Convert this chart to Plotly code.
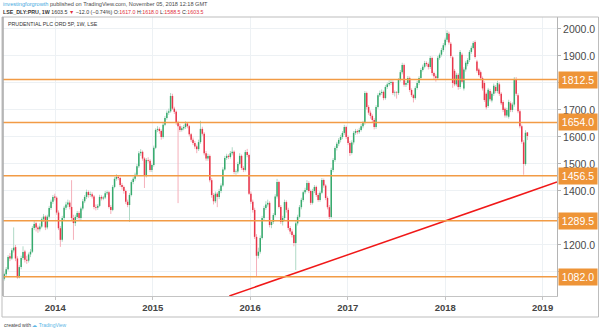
import pandas as pd
import plotly.graph_objects as go

# Weekly OHLC for Prudential (LSE:PRU), one row of ten weeks per line
opens = [
    1075, 1092, 1110, 1158, 1150, 1180, 1192, 1150, 1080, 1118,
    1152, 1176, 1145, 1142, 1165, 1175, 1263, 1280, 1265, 1258,
    1268, 1295, 1305, 1265, 1305, 1337, 1360, 1380, 1375, 1320,
    1262, 1219, 1300, 1338, 1350, 1357, 1341, 1300, 1281, 1304,
    1318, 1300, 1335, 1362, 1378, 1396, 1385, 1388, 1380, 1341,
    1338, 1345, 1378, 1372, 1376, 1392, 1395, 1341, 1330, 1415,
    1445, 1452, 1448, 1422, 1415, 1400, 1360, 1348, 1385, 1433,
    1445, 1460, 1492, 1540, 1545, 1520, 1459, 1515, 1512, 1478,
    1496, 1560, 1626, 1630, 1622, 1600, 1645, 1670, 1690, 1695,
    1752, 1705, 1693, 1652, 1640, 1626, 1632, 1637, 1650, 1640,
    1610, 1590, 1578, 1565, 1555, 1581, 1630, 1612, 1540, 1520,
    1530, 1440, 1385, 1362, 1390, 1378, 1400, 1420, 1480, 1522,
    1530, 1526, 1540, 1545, 1470, 1472, 1500, 1530, 1485, 1478,
    1544, 1533, 1390, 1360, 1330, 1230, 1160, 1175, 1226, 1300,
    1337, 1350, 1356, 1274, 1285, 1311, 1380, 1433, 1341, 1285,
    1300, 1359, 1330, 1263, 1250, 1237, 1207, 1280, 1304, 1340,
    1367, 1395, 1404, 1430, 1400, 1356, 1400, 1415, 1385, 1367,
    1393, 1441, 1420, 1374, 1340, 1304, 1478, 1515, 1559, 1575,
    1589, 1600, 1615, 1637, 1600, 1578, 1541, 1580, 1615, 1622,
    1618, 1626, 1640, 1652, 1763, 1711, 1690, 1678, 1663, 1637,
    1711, 1755, 1763, 1767, 1744, 1785, 1795, 1800, 1804, 1763,
    1765, 1763, 1811, 1840, 1867, 1793, 1800, 1818, 1774, 1755,
    1744, 1781, 1800, 1818, 1848, 1860, 1874, 1870, 1859, 1893,
    1837, 1825, 1818, 1893, 1905, 1922, 1940, 1960, 1982, 1945,
    1895, 1845, 1795, 1830, 1785, 1905, 1780, 1850, 1870, 1885,
    1915, 1930, 1952, 1880, 1850, 1840, 1818, 1800, 1760, 1715,
    1770, 1735, 1760, 1785, 1770, 1795, 1760, 1730, 1705, 1680,
    1675, 1725, 1700, 1720, 1815, 1755, 1695, 1640, 1580, 1500,
    1617,
]
highs = [
    1098, 1118, 1162, 1170, 1188, 1265, 1200, 1158, 1125, 1160,
    1195, 1182, 1160, 1172, 1185, 1270, 1290, 1286, 1272, 1280,
    1302, 1315, 1310, 1312, 1345, 1368, 1385, 1390, 1380, 1328,
    1270, 1308, 1345, 1360, 1368, 1365, 1440, 1312, 1312, 1326,
    1325, 1342, 1370, 1385, 1405, 1402, 1398, 1395, 1385, 1350,
    1352, 1386, 1384, 1382, 1400, 1402, 1400, 1348, 1422, 1452,
    1462, 1458, 1452, 1430, 1420, 1405, 1368, 1392, 1440, 1452,
    1468, 1500, 1548, 1555, 1550, 1525, 1522, 1525, 1518, 1502,
    1568, 1632, 1640, 1636, 1628, 1652, 1678, 1698, 1705, 1763,
    1760, 1712, 1698, 1660, 1648, 1640, 1645, 1658, 1655, 1645,
    1615, 1598, 1585, 1572, 1590, 1660, 1638, 1618, 1548, 1538,
    1535, 1448, 1392, 1398, 1396, 1408, 1428, 1488, 1530, 1538,
    1536, 1548, 1562, 1550, 1480, 1508, 1540, 1535, 1492, 1552,
    1556, 1538, 1398, 1368, 1338, 1240, 1190, 1235, 1308, 1345,
    1362, 1368, 1362, 1292, 1318, 1388, 1445, 1438, 1348, 1308,
    1368, 1365, 1338, 1270, 1258, 1242, 1288, 1312, 1348, 1375,
    1402, 1412, 1440, 1436, 1405, 1408, 1422, 1420, 1392, 1400,
    1448, 1446, 1425, 1380, 1348, 1486, 1522, 1566, 1582, 1596,
    1608, 1622, 1645, 1642, 1606, 1584, 1588, 1622, 1630, 1628,
    1634, 1648, 1660, 1770, 1768, 1718, 1698, 1684, 1670, 1718,
    1762, 1772, 1776, 1772, 1792, 1802, 1810, 1812, 1810, 1772,
    1770, 1818, 1848, 1875, 1872, 1808, 1826, 1824, 1780, 1760,
    1788, 1808, 1825, 1855, 1868, 1882, 1880, 1876, 1900, 1898,
    1842, 1832, 1900, 1912, 1930, 1948, 1968, 1995, 1990, 1952,
    1900, 1852, 1838, 1836, 1922, 1912, 1858, 1882, 1892, 1922,
    1938, 1955, 1958, 1886, 1856, 1846, 1824, 1806, 1765, 1782,
    1778, 1768, 1798, 1792, 1808, 1802, 1766, 1736, 1710, 1708,
    1738, 1732, 1728, 1822, 1822, 1762, 1702, 1646, 1588, 1625,
    1618,
]
lows = [
    1068, 1085, 1105, 1140, 1145, 1172, 1140, 1075, 1076, 1110,
    1145, 1135, 1130, 1135, 1155, 1170, 1255, 1250, 1245, 1250,
    1262, 1285, 1255, 1258, 1298, 1330, 1352, 1365, 1312, 1255,
    1193, 1212, 1292, 1330, 1340, 1332, 1292, 1219, 1270, 1295,
    1290, 1292, 1328, 1355, 1370, 1375, 1378, 1372, 1332, 1328,
    1330, 1340, 1365, 1366, 1370, 1385, 1335, 1315, 1325, 1410,
    1438, 1440, 1415, 1405, 1390, 1352, 1340, 1285, 1380, 1425,
    1438, 1455, 1485, 1530, 1512, 1411, 1450, 1505, 1470, 1470,
    1490, 1555, 1618, 1612, 1590, 1594, 1640, 1664, 1682, 1690,
    1700, 1685, 1645, 1355, 1618, 1620, 1625, 1630, 1632, 1602,
    1582, 1570, 1556, 1540, 1548, 1575, 1605, 1532, 1512, 1512,
    1432, 1375, 1350, 1355, 1340, 1370, 1392, 1415, 1475, 1515,
    1518, 1520, 1532, 1462, 1460, 1465, 1495, 1478, 1470, 1472,
    1525, 1385, 1352, 1320, 1222, 1083, 1150, 1168, 1220, 1292,
    1330, 1342, 1265, 1262, 1278, 1305, 1372, 1335, 1278, 1272,
    1292, 1320, 1255, 1240, 1228, 1195, 1107, 1272, 1298, 1332,
    1360, 1388, 1398, 1392, 1348, 1350, 1392, 1378, 1360, 1360,
    1388, 1412, 1366, 1332, 1296, 1298, 1470, 1508, 1550, 1566,
    1580, 1592, 1608, 1592, 1570, 1530, 1535, 1572, 1608, 1610,
    1612, 1620, 1632, 1645, 1702, 1682, 1668, 1655, 1628, 1630,
    1705, 1748, 1756, 1736, 1738, 1778, 1788, 1792, 1756, 1750,
    1742, 1756, 1805, 1832, 1786, 1785, 1792, 1766, 1748, 1728,
    1738, 1775, 1792, 1812, 1842, 1854, 1862, 1850, 1852, 1828,
    1815, 1805, 1812, 1886, 1898, 1915, 1932, 1952, 1942, 1892,
    1782, 1788, 1788, 1775, 1778, 1798, 1772, 1842, 1862, 1878,
    1908, 1924, 1890, 1838, 1824, 1810, 1772, 1730, 1702, 1708,
    1732, 1728, 1752, 1762, 1762, 1752, 1718, 1692, 1672, 1672,
    1668, 1692, 1692, 1712, 1752, 1688, 1632, 1575, 1460, 1494,
    1588.5,
]
closes = [
    1092, 1110, 1155, 1150, 1180, 1190, 1150, 1080, 1118, 1152,
    1174, 1145, 1142, 1165, 1175, 1263, 1278, 1265, 1258, 1268,
    1295, 1305, 1265, 1305, 1337, 1360, 1378, 1375, 1320, 1262,
    1219, 1300, 1338, 1350, 1357, 1341, 1300, 1281, 1304, 1318,
    1300, 1335, 1362, 1378, 1396, 1385, 1388, 1380, 1341, 1338,
    1345, 1378, 1372, 1376, 1392, 1395, 1341, 1330, 1415, 1445,
    1452, 1448, 1422, 1415, 1400, 1360, 1348, 1385, 1433, 1445,
    1460, 1492, 1540, 1545, 1520, 1459, 1515, 1512, 1478, 1496,
    1560, 1626, 1630, 1622, 1600, 1645, 1670, 1690, 1695, 1752,
    1705, 1693, 1652, 1640, 1626, 1632, 1637, 1650, 1640, 1610,
    1590, 1578, 1565, 1555, 1581, 1630, 1612, 1540, 1520, 1530,
    1440, 1385, 1362, 1390, 1378, 1400, 1420, 1480, 1522, 1530,
    1526, 1540, 1545, 1470, 1472, 1500, 1530, 1485, 1478, 1544,
    1533, 1390, 1360, 1330, 1230, 1160, 1175, 1226, 1300, 1337,
    1350, 1356, 1274, 1285, 1311, 1380, 1433, 1341, 1285, 1300,
    1359, 1330, 1263, 1250, 1237, 1207, 1280, 1304, 1340, 1367,
    1395, 1404, 1430, 1400, 1356, 1400, 1415, 1385, 1367, 1393,
    1441, 1420, 1374, 1340, 1304, 1478, 1515, 1559, 1575, 1589,
    1600, 1615, 1637, 1600, 1578, 1541, 1580, 1615, 1622, 1618,
    1626, 1640, 1652, 1763, 1711, 1690, 1678, 1663, 1637, 1711,
    1755, 1763, 1767, 1744, 1785, 1795, 1800, 1804, 1763, 1765,
    1763, 1811, 1840, 1867, 1793, 1800, 1818, 1774, 1755, 1744,
    1781, 1800, 1818, 1848, 1860, 1874, 1870, 1859, 1893, 1837,
    1825, 1818, 1893, 1905, 1922, 1940, 1960, 1985, 1950, 1900,
    1800, 1795, 1830, 1785, 1915, 1805, 1850, 1875, 1885, 1915,
    1930, 1948, 1896, 1845, 1830, 1818, 1780, 1737, 1710, 1775,
    1740, 1760, 1790, 1770, 1800, 1760, 1725, 1700, 1680, 1700,
    1730, 1700, 1720, 1815, 1760, 1695, 1640, 1582, 1500, 1615.5,
    1603.5,
]
assert len(opens) == len(highs) == len(lows) == len(closes)
weeks = pd.date_range("2013-06-24", periods=len(closes), freq="7D")

# Horizontal support / resistance levels and the rising trendline
levels = [1812.5, 1654.0, 1456.5, 1289.5, 1082.0]
trend_dates = ["2015-10-15", "2019-02-24"]
trend_prices = [1011, 1433]

# price grid; labels under the level tags stay blank
price_ticks = [1100, 1200, 1300, 1400, 1500, 1600, 1700, 1800, 1900, 2000]
price_labels = ["", "1200.0", "", "1400.0", "1500.0", "1600.0", "1700.0", "", "1900.0", "2000.0"]
year_ticks = ["2014-01-01", "2015-01-01", "2016-01-01", "2017-01-01", "2018-01-01", "2019-01-01"]
year_labels = ["2014", "2015", "2016", "2017", "2018", "2019"]

UP, DOWN = "#36aa6d", "#e8364a"
UP_WICK, DOWN_WICK = "#b0d9c6", "#f5b0ba"
LEVEL = "#f29b45"
FONT = "Liberation Sans, Arial, sans-serif"

W, H = 600, 331
ML, MR, MT, MB = 3, 43, 17, 35
PW, PH = W - ML - MR, H - MT - MB


def px_x(p):
    return (p - ML) / PW


def px_y(p):
    return (H - MB - p) / PH


fig = go.Figure()

# wicks (thin, pale) then bodies (thick, saturated), split by direction
for want_up, wick_colour, body_colour in ((True, UP_WICK, UP), (False, DOWN_WICK, DOWN)):
    wx, wy, bx, by = [], [], [], []
    for d, o, h, l, c in zip(weeks, opens, highs, lows, closes):
        if (c >= o) == want_up:
            wx += [d, d, None]
            wy += [l, h, None]
            lo, hi = min(o, c), max(o, c)
            if hi - lo < 2:
                hi = lo + 2
            bx += [d, d, None]
            by += [lo, hi, None]
    fig.add_trace(go.Scatter(x=wx, y=wy, mode="lines",
                             line=dict(color=wick_colour, width=1),
                             hoverinfo="skip", showlegend=False))
    fig.add_trace(go.Scatter(x=bx, y=by, mode="lines",
                             line=dict(color=body_colour, width=1.5),
                             hoverinfo="skip", showlegend=False))

# trendline
fig.add_trace(go.Scatter(x=trend_dates, y=trend_prices, mode="lines",
                         line=dict(color="#f01818", width=1.5),
                         hoverinfo="skip", showlegend=False))

shapes = []
annotations = []
for lv in levels:
    shapes.append(dict(type="line", xref="paper", yref="y", x0=0, x1=1, y0=lv, y1=lv,
                       line=dict(color=LEVEL, width=1.5), layer="above"))
    annotations.append(dict(xref="paper", yref="y", x=1, y=lv, xanchor="left", yanchor="middle",
                            xshift=1, text=f"{lv:.1f}", showarrow=False,
                            bgcolor="#ee9437", width=36, height=14, borderpad=1,
                            font=dict(family=FONT, size=10.5, color="white")))

# outer frame and left edge
shapes.append(dict(type="rect", xref="paper", yref="paper",
                   x0=px_x(2), x1=px_x(598.5), y0=px_y(317), y1=px_y(17),
                   line=dict(color="#bdbdbd", width=1), layer="above"))
shapes.append(dict(type="line", xref="paper", yref="paper", x0=0, x1=0, y0=0, y1=1,
                   line=dict(color="#a8a8a8", width=1.5), layer="above"))

header1 = ("<span style='color:#45a9e0'>investingforgrowth</span>"
           " published on TradingView.com, November 05, 2018 12:18 GMT")
header2 = ("<b>LSE_DLY:PRU, 1W</b> 1603.5 <span style='color:#e0303c'>▼</span> −12.0 (−0.74%) "
           "O:<span style='color:#e0303c'>1617.0</span> H:<span style='color:#e0303c'>1618.0</span> "
           "L:<span style='color:#e0303c'>1588.5</span> C:<span style='color:#e0303c'>1603.5</span>")
annotations += [
    dict(xref="paper", yref="paper", x=px_x(0.5), y=px_y(4.5), xanchor="left", yanchor="middle",
         text=header1, showarrow=False, font=dict(family=FONT, size=5.6, color="#4a4a4a")),
    dict(xref="paper", yref="paper", x=px_x(0.5), y=px_y(12), xanchor="left", yanchor="middle",
         text=header2, showarrow=False, font=dict(family=FONT, size=5.3, color="#333333")),
    dict(xref="paper", yref="paper", x=px_x(5.5), y=px_y(23.5), xanchor="left", yanchor="middle",
         text="PRUDENTIAL PLC ORD 5P, 1W, LSE", showarrow=False,
         font=dict(family=FONT, size=5.3, color="#333333")),
    dict(xref="paper", yref="paper", x=px_x(1.5), y=px_y(324.5), xanchor="left", yanchor="middle",
         text="created with <span style='color:#5cb6e6'>☁ TradingView</span>", showarrow=False,
         font=dict(family=FONT, size=5, color="#444444")),
]

fig.update_layout(
    width=W, height=H,
    margin=dict(l=ML, r=MR, t=MT, b=MB),
    paper_bgcolor="white", plot_bgcolor="white",
    showlegend=False, hovermode=False,
    shapes=shapes, annotations=annotations,
    xaxis=dict(type="date", range=["2013-06-19", "2019-02-24"],
               tickvals=year_ticks, ticktext=year_labels,
               showgrid=True, gridcolor="#edf1f4", gridwidth=1,
               showline=True, linecolor="#c4c4c4", linewidth=1,
               ticks="outside", ticklen=3, tickcolor="#c4c4c4",
               tickfont=dict(family=FONT, size=9.5, color="#444444", weight="bold"),
               zeroline=False, fixedrange=True),
    yaxis=dict(side="right", range=[1011, 2044.4],
               tickvals=price_ticks, ticktext=price_labels,
               showgrid=True, gridcolor="#edf1f4", gridwidth=1,
               showline=True, linecolor="#b4b4b4", linewidth=1,
               ticks="outside", ticklen=3, tickcolor="#b4b4b4",
               tickfont=dict(family=FONT, size=10.5, color="#4a4a4a"),
               zeroline=False, fixedrange=True),
)

fig.write_html("out.html", config={"displayModeBar": False, "staticPlot": True})
